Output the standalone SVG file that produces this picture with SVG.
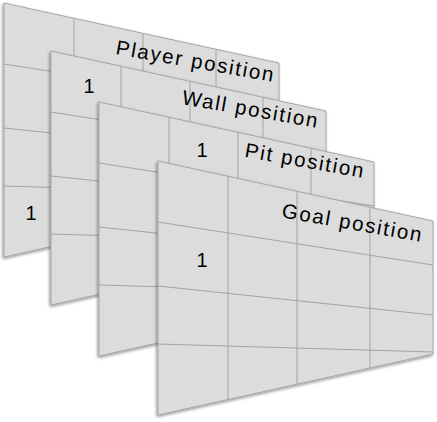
<svg xmlns="http://www.w3.org/2000/svg" xmlns:xlink="http://www.w3.org/1999/xlink" width="437" height="422" viewBox="0 0 437 422">
<style>
.panel{fill:#dcdcdc;stroke:#a6a6a6;stroke-width:1}
.grid{stroke:#a3a3a3;stroke-width:1;fill:none}
.lbl{font-family:"Liberation Sans",Arial,sans-serif;font-size:20.5px;letter-spacing:1.8px;fill:#000}
.one{font-family:"Liberation Sans",Arial,sans-serif;font-size:20px;fill:#000;text-anchor:middle}
</style>
<defs>
<filter id="sh" x="-10%" y="-10%" width="120%" height="125%">
<feDropShadow dx="-1" dy="1.5" stdDeviation="1.5" flood-color="#000" flood-opacity="0.45"/>
</filter>
<g id="panel">
<path class="panel" d="M0,0 L275,60 L275,193 L0,254 Z" filter="url(#sh)"/>
<path class="grid" d="M70,15.3 L70,238.5 M139,30.3 L139,223.2 M212,46.3 L212,207 M0,61 L275,104 M0,125 L275,154 M0,183 L275,191"/>
</g>
</defs>
<g id="player" transform="translate(4,3)">
<use xlink:href="#panel"/>
<text class="lbl" text-anchor="end" transform="translate(270,79) rotate(10)">Player position</text>
<text class="one" x="27" y="217">1</text>
</g>
<g id="wall" transform="translate(51,51)">
<use xlink:href="#panel"/>
<text class="lbl" text-anchor="end" transform="translate(267,77) rotate(10)">Wall position</text>
<text class="one" x="38" y="42">1</text>
</g>
<g id="pit" transform="translate(99,102)">
<use xlink:href="#panel"/>
<text class="lbl" text-anchor="end" transform="translate(265,76) rotate(10)">Pit position</text>
<text class="one" x="103" y="55">1</text>
</g>
<g id="goal" transform="translate(158,161)">
<use xlink:href="#panel"/>
<text class="lbl" text-anchor="end" transform="translate(264,81) rotate(10)">Goal position</text>
<text class="one" x="44" y="106">1</text>
</g>
<g id="connectors"/>
</svg>
